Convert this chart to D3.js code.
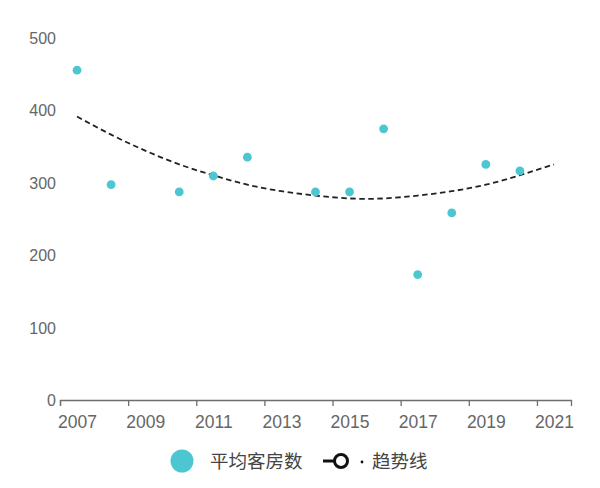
<!DOCTYPE html>
<html><head><meta charset="utf-8">
<script src="https://cdn.jsdelivr.net/npm/d3@7"></script>
<style>body{margin:0;background:#fff;} svg{display:block;}</style>
</head><body>
<svg id="c" width="600" height="488"></svg>
<script>
const years = [2007, 2008, 2010, 2011, 2012, 2014, 2015, 2016, 2017, 2018, 2019, 2020];
const rooms = [455, 297, 287, 309, 335, 287, 287, 374, 173, 258, 325, 316];
const trendYears = [2007, 2008, 2009, 2010, 2011, 2012, 2013, 2014, 2015, 2016, 2017, 2018, 2019, 2020, 2021];
const trendValues = [391, 366, 344, 325, 310, 297, 288, 282, 278, 278, 282, 288, 297, 310, 325];
const xTicks = [2007, 2009, 2011, 2013, 2015, 2017, 2019, 2021];
const yTicks = [0, 100, 200, 300, 400, 500];
const seriesName = "平均客房数";
const trendName = "趋势线";

const teal = "#4cc7d2";
const svg = d3.select("#c");
const x = d3.scaleLinear().domain([2007, 2022]).range([60, 571]);
const y = d3.scaleLinear().domain([0, 500]).range([400, 37.5]);
const mid = v => x(v + 0.5);
const numFont = "Liberation Sans, Arial, sans-serif";

// x axis
const gx = svg.append("g").attr("transform", "translate(0,400)")
  .call(d3.axisBottom(x).tickValues(xTicks).tickSize(6).tickSizeOuter(6).tickFormat(d3.format("d")));
gx.select(".domain").attr("stroke", "#6e6e6e").attr("stroke-width", 1.3);
gx.selectAll(".tick line").attr("stroke", "#6e6e6e").attr("stroke-width", 1.3);
gx.selectAll(".tick text")
  .attr("x", (x(2008) - x(2007)) / 2)
  .attr("y", 28).attr("dy", 0)
  .attr("fill", "#666").attr("font-size", 17.5).attr("font-family", numFont);

// y axis (labels only)
const gy = svg.append("g").attr("transform", "translate(56,0)")
  .call(d3.axisLeft(y).tickValues(yTicks).tickSize(0).tickPadding(0));
gy.select(".domain").remove();
gy.selectAll(".tick text").attr("fill", "#666").attr("font-size", 16).attr("font-family", numFont).attr("dy", "0.35em");

// trend line
const line = d3.line().x(d => mid(d[0])).y(d => y(d[1])).curve(d3.curveNatural);
svg.append("path").datum(trendYears.map((t, i) => [t, trendValues[i]]))
  .attr("d", line).attr("fill", "none").attr("stroke", "#222").attr("stroke-width", 1.8)
  .attr("stroke-dasharray", "5.5,3.5");

// points
svg.append("g").selectAll("circle").data(years.map((t, i) => [t, rooms[i]])).join("circle")
  .attr("cx", d => mid(d[0])).attr("cy", d => y(d[1])).attr("r", 4.4).attr("fill", teal);

// legend
const lg = svg.append("g").attr("font-family", "Noto Sans CJK SC, sans-serif").attr("font-size", 18.5).attr("fill", "#444");
lg.append("circle").attr("cx", 182).attr("cy", 461).attr("r", 11.5).attr("fill", teal);
lg.append("text").attr("x", 210).attr("y", 467.5).text(seriesName);
lg.append("line").attr("x1", 323).attr("x2", 334).attr("y1", 461).attr("y2", 461).attr("stroke", "#111").attr("stroke-width", 3);
lg.append("circle").attr("cx", 341).attr("cy", 461).attr("r", 6.5).attr("fill", "#fff").attr("stroke", "#111").attr("stroke-width", 3);
lg.append("circle").attr("cx", 362).attr("cy", 462).attr("r", 1.4).attr("fill", "#111");
lg.append("text").attr("x", 372).attr("y", 467.5).text(trendName);
</script>
</body></html>
